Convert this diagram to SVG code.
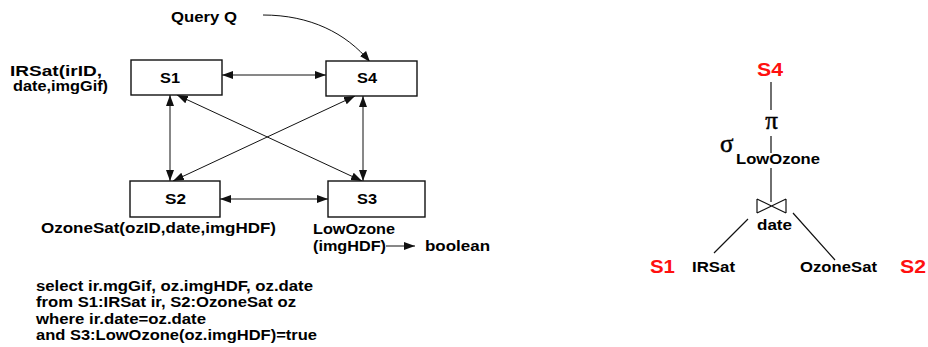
<svg xmlns="http://www.w3.org/2000/svg" width="928" height="347" viewBox="0 0 928 347">
<style>
.t{font-family:"Liberation Sans",Arial,sans-serif;font-weight:bold;font-size:14px;fill:#000}
.r{font-family:"Liberation Sans",Arial,sans-serif;font-weight:bold;font-size:18px;fill:#ff1010}
.g{font-family:"Liberation Serif","DejaVu Serif",serif;fill:#000;stroke:#000;stroke-width:0.5}
.box{fill:#fff;stroke:#111;stroke-width:1.4}
.c{fill:none;stroke:#111;stroke-width:1}
.e{fill:none;stroke:#111;stroke-width:1.2}
</style>
<defs>
<marker id="ah" markerUnits="userSpaceOnUse" markerWidth="12" markerHeight="9" refX="11" refY="4" orient="auto-start-reverse">
<path d="M0,0 L11,4 L0,8 z" fill="#111"/>
</marker>
</defs>
<rect width="928" height="347" fill="#fff"/>

<g id="connectors">
<path class="c" d="M222,75 L326,75" marker-start="url(#ah)" marker-end="url(#ah)"/>
<path class="c" d="M170,95 L170,181" marker-start="url(#ah)" marker-end="url(#ah)"/>
<path class="c" d="M363,96 L363,181" marker-start="url(#ah)" marker-end="url(#ah)"/>
<path class="c" d="M177,95 L362,181" marker-start="url(#ah)" marker-end="url(#ah)"/>
<path class="c" d="M355,96 L173,181" marker-start="url(#ah)" marker-end="url(#ah)"/>
<path class="c" d="M220,199 L328,199" marker-start="url(#ah)" marker-end="url(#ah)"/>
<path class="c" d="M263,15 C310,15 346,33 370,62" marker-end="url(#ah)"/>
<path class="c" d="M386,246 L415,246" marker-end="url(#ah)"/>
</g>

<g id="query"><text class="t" x="171" y="22" textLength="66" lengthAdjust="spacingAndGlyphs">Query Q</text></g>

<g id="S1"><rect class="box" x="131" y="60" width="91" height="35"/><text class="t" x="160" y="83" textLength="20" lengthAdjust="spacingAndGlyphs">S1</text></g>
<g id="S4"><rect class="box" x="326" y="61" width="91" height="35"/><text class="t" x="357" y="83" textLength="20" lengthAdjust="spacingAndGlyphs">S4</text></g>
<g id="S2"><rect class="box" x="130" y="181" width="90" height="36"/><text class="t" x="165" y="204" textLength="21" lengthAdjust="spacingAndGlyphs">S2</text></g>
<g id="S3"><rect class="box" x="328" y="181" width="97" height="36"/><text class="t" x="357" y="204" textLength="20" lengthAdjust="spacingAndGlyphs">S3</text></g>

<g id="irsat-label">
<text class="t" x="10" y="76" textLength="92" lengthAdjust="spacingAndGlyphs">IRSat(irID,</text>
<text class="t" x="13" y="91" textLength="95" lengthAdjust="spacingAndGlyphs">date,imgGif)</text>
</g>
<g id="ozonesat-label"><text class="t" x="41" y="233" textLength="235" lengthAdjust="spacingAndGlyphs">OzoneSat(ozID,date,imgHDF)</text></g>
<g id="lowozone-label">
<text class="t" x="313" y="234" textLength="82" lengthAdjust="spacingAndGlyphs">LowOzone</text>
<text class="t" x="313" y="251" textLength="73" lengthAdjust="spacingAndGlyphs">(imgHDF)</text>
<text class="t" x="425" y="251" textLength="65" lengthAdjust="spacingAndGlyphs">boolean</text>
</g>
<g id="query-text">
<text class="t" x="36" y="290.5" textLength="277" lengthAdjust="spacingAndGlyphs">select ir.mgGif, oz.imgHDF, oz.date</text>
<text class="t" x="36" y="307" textLength="260" lengthAdjust="spacingAndGlyphs">from S1:IRSat ir, S2:OzoneSat oz</text>
<text class="t" x="36" y="323.5" textLength="170" lengthAdjust="spacingAndGlyphs">where ir.date=oz.date</text>
<text class="t" x="36" y="340" textLength="281" lengthAdjust="spacingAndGlyphs">and S3:LowOzone(oz.imgHDF)=true</text>
</g>

<g id="tree-edges">
<path class="e" d="M771,82 L771,110 M771,136 L771,153 M771,168 L771,202 M748,219 L714,253 M793,213 L835,260"/>
</g>
<g id="tree-S4"><text class="r" x="757" y="76" textLength="26" lengthAdjust="spacingAndGlyphs">S4</text></g>
<g id="tree-pi"><text class="g" x="771.5" y="129" font-size="25" text-anchor="middle">π</text></g>
<g id="tree-select">
<text class="g" x="720" y="152" font-size="25">σ</text>
<text class="t" x="736" y="164" textLength="84" lengthAdjust="spacingAndGlyphs">LowOzone</text>
</g>
<g id="tree-join">
<path class="e" d="M757,199 L786,213 M757,213 L786,199 M757,199 L757,213 M786,199 L786,213"/>
<text class="t" x="757" y="230" textLength="35" lengthAdjust="spacingAndGlyphs">date</text>
</g>
<g id="tree-irsat">
<text class="r" x="650" y="273" textLength="25" lengthAdjust="spacingAndGlyphs">S1</text>
<text class="t" x="692" y="272" textLength="43" lengthAdjust="spacingAndGlyphs">IRSat</text>
</g>
<g id="tree-ozonesat">
<text class="t" x="800" y="272" textLength="77" lengthAdjust="spacingAndGlyphs">OzoneSat</text>
<text class="r" x="900" y="273" textLength="26" lengthAdjust="spacingAndGlyphs">S2</text>
</g>
</svg>
